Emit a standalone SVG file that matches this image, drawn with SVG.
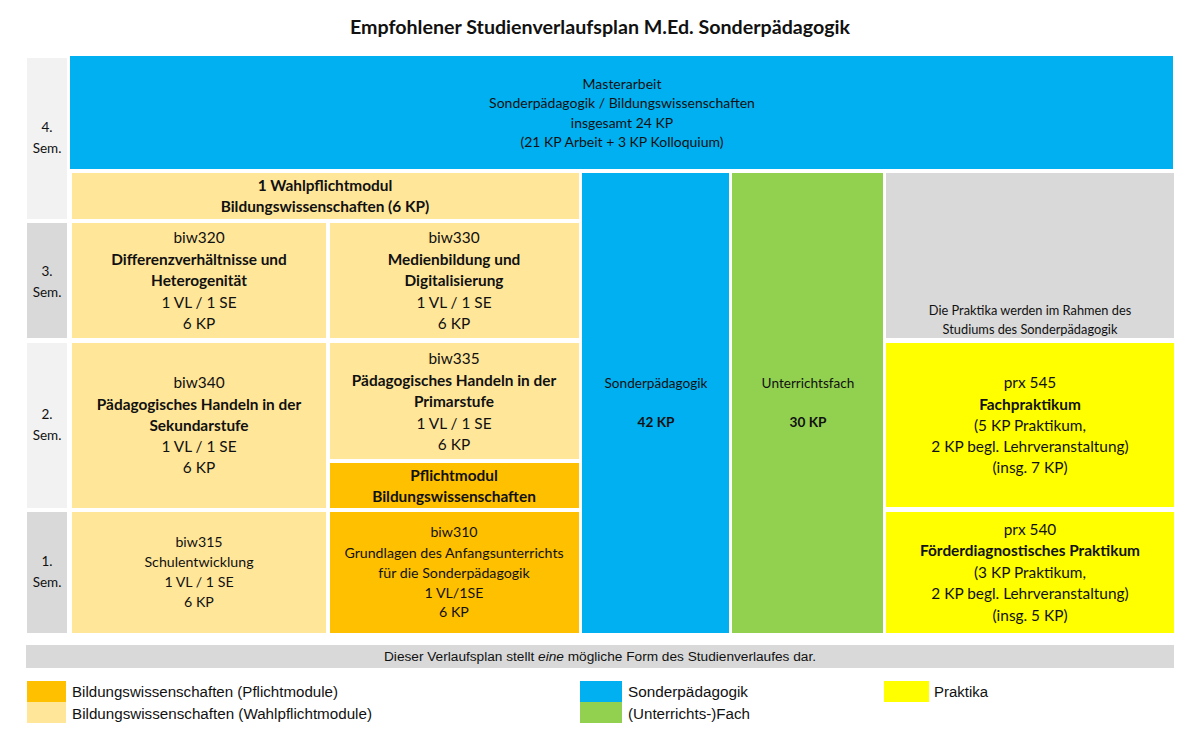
<svg xmlns="http://www.w3.org/2000/svg" width="1200" height="749" viewBox="0 0 1200 749">
<style>
text{font-family:Lato,"Open Sans","Liberation Sans",sans-serif;fill:#111;text-anchor:middle}
.c{font-size:15.4px}
.s{font-size:14.2px}
.m{font-size:14px}
.sl{font-size:13.5px}
.b{font-weight:bold}
.lg{font-family:"Liberation Sans",Arial,sans-serif;font-size:14px;text-anchor:start}
.blue{fill:#00B0F0}.green{fill:#92D050}.orange{fill:#FFC000}.light{fill:#FFE699}.yellow{fill:#FFFF00}.gray{fill:#D9D9D9}.lgray{fill:#F2F2F2}
</style>
<rect width="1200" height="749" fill="#fff"/>
<text x="600" y="34" class="b" style="font-size:18px" textLength="500" lengthAdjust="spacingAndGlyphs">Empfohlener Studienverlaufsplan M.Ed. Sonderpädagogik</text>

<g id="sem-labels" class="sl">
<rect x="27" y="58" width="40" height="161" class="lgray"/>
<text x="47" y="132">4.</text><text x="47" y="153">Sem.</text>
<rect x="27" y="223" width="40" height="115" class="gray"/>
<text x="47" y="276">3.</text><text x="47" y="297">Sem.</text>
<rect x="27" y="343" width="40" height="165" class="lgray"/>
<text x="47" y="419">2.</text><text x="47" y="440">Sem.</text>
<rect x="27" y="512" width="40" height="121" class="gray"/>
<text x="47" y="566">1.</text><text x="47" y="587">Sem.</text>
</g>

<g id="masterarbeit">
<rect x="70" y="56" width="1103" height="113" class="blue"/>
<g class="m"><text x="622" y="89">Masterarbeit</text><text x="622" y="108">Sonderpädagogik / Bildungswissenschaften</text><text x="622" y="128">insgesamt 24 KP</text><text x="622" y="147">(21 KP Arbeit + 3 KP Kolloquium)</text></g>
</g>

<g id="wahlpflicht">
<rect x="72" y="173" width="507" height="46" class="light"/>
<g class="c b"><text x="325" y="191">1 Wahlpflichtmodul</text><text x="325" y="212">Bildungswissenschaften (6 KP)</text></g>
</g>

<g id="biw320">
<rect x="72" y="223" width="254" height="115" class="light"/>
<g class="c"><text x="199" y="243">biw320</text><text x="199" y="265" class="b">Differenzverhältnisse und</text><text x="199" y="286" class="b">Heterogenität</text><text x="199" y="308">1 VL / 1 SE</text><text x="199" y="329">6 KP</text></g>
</g>
<g id="biw330">
<rect x="330" y="223" width="249" height="115" class="light"/>
<g class="c"><text x="454" y="243">biw330</text><text x="454" y="265" class="b">Medienbildung und</text><text x="454" y="286" class="b">Digitalisierung</text><text x="454" y="308">1 VL / 1 SE</text><text x="454" y="329">6 KP</text></g>
</g>

<g id="biw340">
<rect x="72" y="343" width="254" height="165" class="light"/>
<g class="c"><text x="199" y="388">biw340</text><text x="199" y="410" class="b">Pädagogisches Handeln in der</text><text x="199" y="431" class="b">Sekundarstufe</text><text x="199" y="452">1 VL / 1 SE</text><text x="199" y="473">6 KP</text></g>
</g>
<g id="biw335">
<rect x="330" y="343" width="249" height="116" class="light"/>
<g class="c"><text x="454" y="364">biw335</text><text x="454" y="386" class="b">Pädagogisches Handeln in der</text><text x="454" y="407" class="b">Primarstufe</text><text x="454" y="429">1 VL / 1 SE</text><text x="454" y="450">6 KP</text></g>
</g>
<g id="pflichtmodul">
<rect x="330" y="463" width="249" height="45" class="orange"/>
<g class="c b"><text x="454" y="481">Pflichtmodul</text><text x="454" y="502">Bildungswissenschaften</text></g>
</g>

<g id="biw315">
<rect x="72" y="512" width="254" height="121" class="light"/>
<g class="s"><text x="199" y="547">biw315</text><text x="199" y="567">Schulentwicklung</text><text x="199" y="587">1 VL / 1 SE</text><text x="199" y="607">6 KP</text></g>
</g>
<g id="biw310">
<rect x="330" y="512" width="249" height="121" class="orange"/>
<g class="s"><text x="454" y="537">biw310</text><text x="454" y="558">Grundlagen des Anfangsunterrichts</text><text x="454" y="578">für die Sonderpädagogik</text><text x="454" y="598">1 VL/1SE</text><text x="454" y="617">6 KP</text></g>
</g>

<g id="sonderpaedagogik">
<rect x="582" y="173" width="147" height="460" class="blue"/>
<g style="font-size:13.6px"><text x="656" y="388">Sonderpädagogik</text><text x="656" y="427" class="b">42 KP</text></g>
</g>
<g id="unterrichtsfach">
<rect x="732" y="173" width="151" height="460" class="green"/>
<g style="font-size:13.6px"><text x="808" y="388">Unterrichtsfach</text><text x="808" y="427" class="b">30 KP</text></g>
</g>

<g id="praktika-hinweis">
<rect x="886" y="173" width="288" height="165" class="gray"/>
<g style="font-size:12.8px"><text x="1030" y="315">Die Praktika werden im Rahmen des</text><text x="1030" y="334">Studiums des Sonderpädagogik</text></g>
</g>
<g id="prx545">
<rect x="886" y="343" width="288" height="164" class="yellow"/>
<g class="c"><text x="1030" y="388">prx 545</text><text x="1030" y="410" class="b">Fachpraktikum</text><text x="1030" y="431">(5 KP Praktikum,</text><text x="1030" y="452">2 KP begl. Lehrveranstaltung)</text><text x="1030" y="473">(insg. 7 KP)</text></g>
</g>
<g id="prx540">
<rect x="886" y="512" width="288" height="121" class="yellow"/>
<g class="c"><text x="1030" y="535">prx 540</text><text x="1030" y="556" class="b">Förderdiagnostisches Praktikum</text><text x="1030" y="578">(3 KP Praktikum,</text><text x="1030" y="599">2 KP begl. Lehrveranstaltung)</text><text x="1030" y="621">(insg. 5 KP)</text></g>
</g>

<g id="connectors"></g>

<g id="footer">
<rect x="26" y="645" width="1148" height="23" class="gray"/>
<text x="600" y="661" style="font-family:'Liberation Sans',Arial,sans-serif;font-size:12px" textLength="432" lengthAdjust="spacingAndGlyphs">Dieser Verlaufsplan stellt <tspan font-style="italic">eine</tspan> mögliche Form des Studienverlaufes dar.</text>
</g>

<g id="legend">
<rect x="27" y="681" width="39" height="21" class="orange"/>
<text x="72" y="697" class="lg" textLength="266" lengthAdjust="spacingAndGlyphs">Bildungswissenschaften (Pflichtmodule)</text>
<rect x="27" y="702" width="39" height="21" class="light"/>
<text x="72" y="719" class="lg" textLength="300" lengthAdjust="spacingAndGlyphs">Bildungswissenschaften (Wahlpflichtmodule)</text>
<rect x="580" y="681" width="42" height="21" class="blue"/>
<text x="628" y="697" class="lg" textLength="120" lengthAdjust="spacingAndGlyphs">Sonderpädagogik</text>
<rect x="580" y="702" width="42" height="21" class="green"/>
<text x="628" y="719" class="lg" textLength="122" lengthAdjust="spacingAndGlyphs">(Unterrichts-)Fach</text>
<rect x="884" y="681" width="45" height="21" class="yellow"/>
<text x="934" y="697" class="lg" textLength="54" lengthAdjust="spacingAndGlyphs">Praktika</text>
</g>
</svg>
